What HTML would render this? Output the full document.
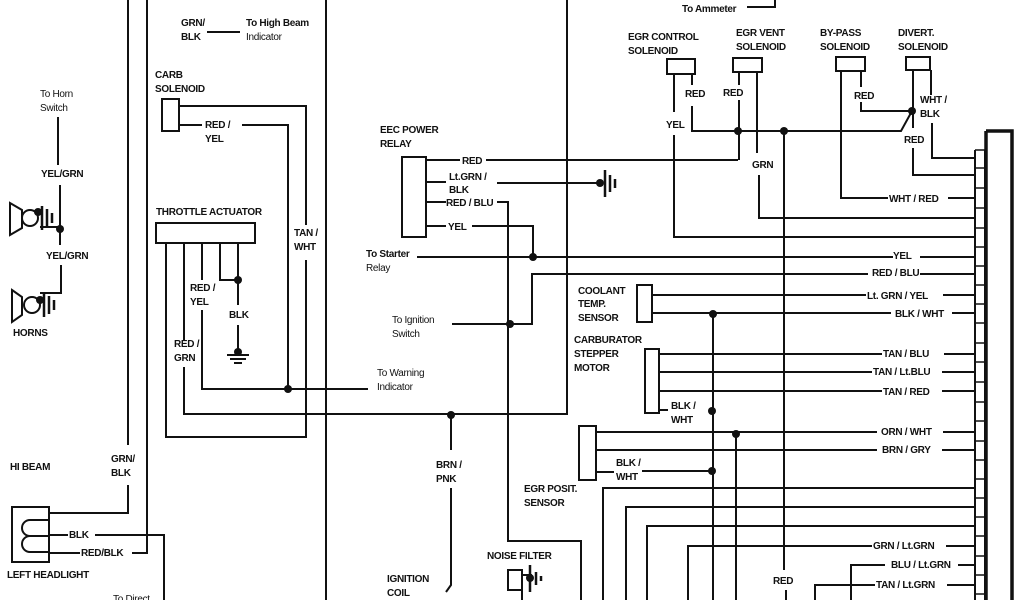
<!DOCTYPE html>
<html><head><meta charset="utf-8"><style>
html,body{margin:0;padding:0;background:#fff}
svg{display:block}
text{font-family:"Liberation Sans",Arial,sans-serif;font-size:10px;font-weight:bold;fill:#111;letter-spacing:-0.3px}
</style></head><body>
<svg width="1024" height="600" viewBox="0 0 1024 600" xmlns="http://www.w3.org/2000/svg">
<g fill="none" stroke="#111" stroke-width="2">
<!-- long verticals -->
<path d="M128 0V445M128 485V513H49"/>
<path d="M147 0V553H132"/>
<path d="M326 0V600"/>
<path d="M567 0V414H184"/>
<!-- top -->
<path d="M207 32H240"/>
<path d="M747 7H775V0"/>
<!-- horns -->
<path d="M58 117V165M60 185V245M61 265V293H40"/>
<path d="M40 227H60"/>
<path d="M10 203L22 210V228L10 235Z"/>
<circle cx="30" cy="218" r="8"/>
<path d="M12 290L22 297V315L12 322Z"/>
<circle cx="32" cy="305" r="8"/>
<!-- carb solenoid -->
<rect x="162" y="99" width="17" height="32"/>
<path d="M179 106H306V225M306 260V437H166V243"/>
<path d="M179 125H202M242 125H288V389"/>
<!-- throttle actuator -->
<rect x="156" y="223" width="99" height="20"/>
<path d="M184 243V340M184 367V415"/>
<path d="M202 243V280M202 310V389H368"/>
<path d="M220 243V280H238M238 243V305M238 325V352"/>
<path d="M227 355H249M230 359H246M234 363H242"/>
<!-- headlight -->
<rect x="12" y="507" width="37" height="55"/>
<path d="M49 520H30A8 8 0 0 0 30 536H49M49 536H30A8 8 0 0 0 30 552H49"/>
<path d="M49 535H68M95 535H164V600M49 553H80"/>
<!-- EEC relay -->
<rect x="402" y="157" width="24" height="80"/>
<path d="M426 160H460M486 160H738"/>
<path d="M426 182H446M497 183H598"/>
<path d="M426 202H446M497 202H508V541H581V600"/>
<path d="M426 226H446M472 226H533V257"/>
<path d="M417 257H893M920 257H975"/>
<path d="M975 274H920M868 274H532V324H510M452 324H510"/>
<!-- BRN/PNK & coil -->
<path d="M451 415V450M451 488V585L446 592"/>
<path d="M522 575H532M522 600V590"/>
<rect x="508" y="570" width="14" height="20"/>
<!-- solenoids -->
<rect x="667" y="59" width="28" height="15"/>
<rect x="733" y="58" width="29" height="14"/>
<rect x="836" y="57" width="29" height="14"/>
<rect x="906" y="57" width="24" height="13"/>
<path d="M674 74V112M674 135V237H975"/>
<path d="M692 74V85M692 106V131H901L912 111"/>
<path d="M739 72V85M739 100V160"/>
<path d="M757 72V153M759 175V218H975"/>
<path d="M784 131V570M786 590V600"/>
<path d="M841 71V198H888M948 198H975"/>
<path d="M861 71V87M861 102V111H913"/>
<path d="M913 70V128M913 148V175H975"/>
<path d="M931 70V95M932 123V158H975"/>
<!-- coolant -->
<rect x="637" y="285" width="15" height="37"/>
<path d="M652 295H866M943 295H975"/>
<path d="M652 313H891M952 313H975"/>
<path d="M713 313V600"/>
<!-- stepper -->
<rect x="645" y="349" width="14" height="64"/>
<path d="M659 354H882M944 354H975M659 372H872M942 372H975M659 391H882M942 391H975M659 410H668"/>
<!-- EGR posit -->
<rect x="579" y="426" width="17" height="54"/>
<path d="M596 432H877M943 432H975M596 450H877M942 450H975M596 472H614M642 471H713"/>
<path d="M736 434V600"/>
<path d="M603 600V488H975M626 600V507H975M647 600V526H975M688 600V546H872M946 546H975"/>
<path d="M851 600V565H885M958 565H975M815 600V585H875M947 585H975"/>
<!-- ECU -->
<path d="M975 150V600M985 150V600"/>
</g>
<g stroke="#111" stroke-width="1.5">
<path d="M975 150H985M975 168H985M975 188H985M975 208H985M975 228H985M975 247H985M975 266H985M975 285H985M975 304H985M975 323H985M975 343H985M975 362H985M975 382H985M975 402H985M975 421H985M975 441H985M975 460H985M975 479H985M975 498H985M975 517H985M975 536H985M975 556H985M975 575H985M975 594H985"/>
</g>
<path d="M986 131H1012V600M986 131V600" fill="none" stroke="#111" stroke-width="3.5"/>
<!-- grounds -->
<g stroke="#111" stroke-width="2.5">
<path d="M42 206V230M47 209V227M52 213V223"/>
<path d="M44 293V317M49 296V314M54 300V310"/>
<path d="M605 170V197M610 175V192M615 179V188"/>
<path d="M530 565V592M536 572V585M541 576V581"/>
</g>
<g fill="#111">
<circle cx="38" cy="212" r="4"/><circle cx="40" cy="300" r="4"/>
<circle cx="60" cy="229" r="4"/><circle cx="238" cy="280" r="4"/>
<circle cx="238" cy="352" r="4"/><circle cx="288" cy="389" r="4"/>
<circle cx="451" cy="415" r="4"/><circle cx="600" cy="183" r="4"/>
<circle cx="533" cy="257" r="4"/><circle cx="510" cy="324" r="4"/>
<circle cx="738" cy="131" r="4"/><circle cx="784" cy="131" r="4"/>
<circle cx="912" cy="111" r="4"/><circle cx="713" cy="314" r="4"/>
<circle cx="712" cy="411" r="4"/><circle cx="736" cy="434" r="4"/>
<circle cx="712" cy="471" r="4"/><circle cx="530" cy="578" r="4"/>
</g>
<g>
<text x="181" y="26">GRN/</text><text x="181" y="40">BLK</text>
<text x="246" y="26">To High Beam</text><text x="246" y="40" style="font-weight:normal">Indicator</text>
<text x="40" y="97" style="font-weight:normal">To Horn</text><text x="40" y="111" style="font-weight:normal">Switch</text>
<text x="41" y="177">YEL/GRN</text><text x="46" y="259">YEL/GRN</text>
<text x="13" y="336">HORNS</text>
<text x="155" y="78">CARB</text><text x="155" y="92">SOLENOID</text>
<text x="205" y="128">RED /</text><text x="205" y="142">YEL</text>
<text x="156" y="215">THROTTLE ACTUATOR</text>
<text x="294" y="236">TAN /</text><text x="294" y="250">WHT</text>
<text x="190" y="291">RED /</text><text x="190" y="305">YEL</text>
<text x="229" y="318">BLK</text>
<text x="174" y="347">RED /</text><text x="174" y="361">GRN</text>
<text x="111" y="462">GRN/</text><text x="111" y="476">BLK</text>
<text x="10" y="470">HI BEAM</text>
<text x="69" y="538">BLK</text><text x="81" y="556">RED/BLK</text>
<text x="7" y="578">LEFT HEADLIGHT</text>
<text x="113" y="602" style="font-weight:normal">To Direct</text>
<text x="380" y="133">EEC POWER</text><text x="380" y="147">RELAY</text>
<text x="462" y="164">RED</text>
<text x="449" y="180">Lt.GRN /</text><text x="449" y="193">BLK</text>
<text x="446" y="206">RED / BLU</text>
<text x="448" y="230">YEL</text>
<text x="366" y="257">To Starter</text><text x="366" y="271" style="font-weight:normal">Relay</text>
<text x="392" y="323" style="font-weight:normal">To Ignition</text><text x="392" y="337" style="font-weight:normal">Switch</text>
<text x="377" y="376" style="font-weight:normal">To Warning</text><text x="377" y="390" style="font-weight:normal">Indicator</text>
<text x="436" y="468">BRN /</text><text x="436" y="482">PNK</text>
<text x="487" y="559">NOISE FILTER</text>
<text x="387" y="582">IGNITION</text><text x="387" y="596">COIL</text>
<text x="682" y="12">To Ammeter</text>
<text x="628" y="40">EGR CONTROL</text><text x="628" y="54">SOLENOID</text>
<text x="736" y="36">EGR VENT</text><text x="736" y="50">SOLENOID</text>
<text x="820" y="36">BY-PASS</text><text x="820" y="50">SOLENOID</text>
<text x="898" y="36">DIVERT.</text><text x="898" y="50">SOLENOID</text>
<text x="685" y="97">RED</text><text x="723" y="96">RED</text>
<text x="666" y="128">YEL</text><text x="752" y="168">GRN</text>
<text x="854" y="99">RED</text>
<text x="920" y="103">WHT /</text><text x="920" y="117">BLK</text>
<text x="904" y="143">RED</text>
<text x="889" y="202">WHT / RED</text>
<text x="893" y="259">YEL</text><text x="872" y="276">RED / BLU</text>
<text x="867" y="299">Lt. GRN / YEL</text><text x="895" y="317">BLK / WHT</text>
<text x="578" y="294">COOLANT</text><text x="578" y="307">TEMP.</text><text x="578" y="321">SENSOR</text>
<text x="574" y="343">CARBURATOR</text><text x="574" y="357">STEPPER</text><text x="574" y="371">MOTOR</text>
<text x="883" y="357">TAN / BLU</text><text x="873" y="375">TAN / Lt.BLU</text><text x="883" y="395">TAN / RED</text>
<text x="671" y="409">BLK /</text><text x="671" y="423">WHT</text>
<text x="881" y="435">ORN / WHT</text><text x="882" y="453">BRN / GRY</text>
<text x="616" y="466">BLK /</text><text x="616" y="480">WHT</text>
<text x="524" y="492">EGR POSIT.</text><text x="524" y="506">SENSOR</text>
<text x="873" y="549">GRN / Lt.GRN</text><text x="891" y="568">BLU / Lt.GRN</text><text x="876" y="588">TAN / Lt.GRN</text>
<text x="773" y="584">RED</text>
</g>
</svg>
</body></html>
